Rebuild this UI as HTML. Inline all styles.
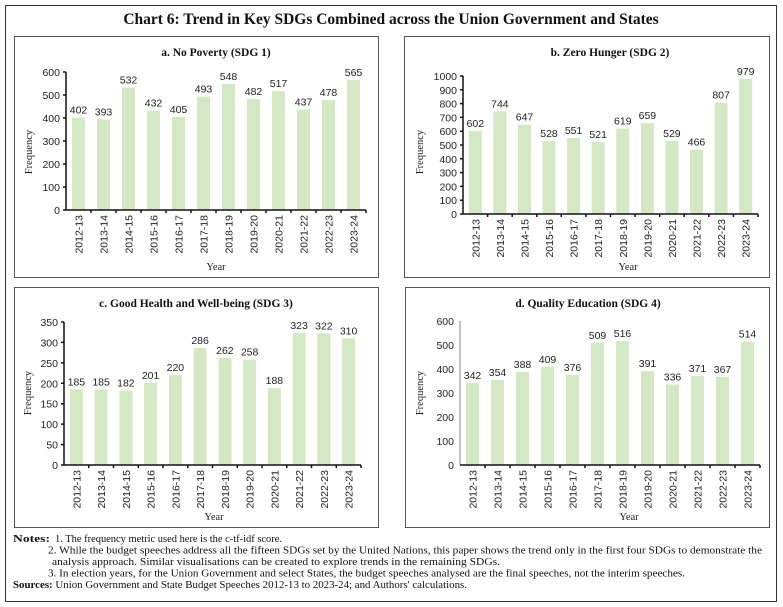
<!DOCTYPE html>
<html><head><meta charset="utf-8"><style>
html,body{margin:0;padding:0;background:#fff;}
svg{display:block;}
.v{font-family:"Liberation Sans",sans-serif;font-size:10.5px;fill:#222;text-anchor:middle;}
.yl{font-family:"Liberation Sans",sans-serif;font-size:10.5px;fill:#222;text-anchor:end;}
.ti{font-family:"Liberation Serif",serif;font-size:11.5px;font-weight:bold;text-anchor:middle;fill:#111;}
.ax{font-family:"Liberation Serif",serif;font-size:10.5px;fill:#222;text-anchor:middle;}
.n{font-family:"Liberation Serif",serif;font-size:11px;fill:#111;}
.b{fill:#d5e8c5;}
</style></head><body>
<svg width="783" height="607" viewBox="0 0 783 607" xmlns="http://www.w3.org/2000/svg">
<rect x="5.5" y="5.5" width="771" height="596" fill="#fff" stroke="#333" stroke-width="1"/>
<text x="391" y="24" style="font-family:'Liberation Serif',serif;font-size:15.5px;font-weight:bold;fill:#111" text-anchor="middle">Chart 6: Trend in Key SDGs Combined across the Union Government and States</text>

<!-- Panel a -->
<rect x="14.5" y="36.5" width="364" height="241" fill="none" stroke="#555"/>
<text class="ti" x="216" y="56">a. No Poverty (SDG 1)</text>
<g class="b">
<rect x="72" y="117.5" width="13" height="92.5"/><rect x="97" y="119.6" width="13" height="90.4"/><rect x="122" y="87.6" width="13" height="122.4"/><rect x="147" y="110.6" width="13" height="99.4"/><rect x="172" y="116.8" width="13" height="93.2"/><rect x="197" y="96.6" width="13" height="113.4"/><rect x="222" y="84" width="13" height="126"/><rect x="247" y="99.1" width="13" height="110.9"/><rect x="272" y="91.1" width="13" height="118.9"/><rect x="297" y="109.5" width="13" height="100.5"/><rect x="322" y="100.1" width="13" height="109.9"/><rect x="347" y="80" width="13" height="130"/>
</g>
<g class="v">
<text x="78.5" y="113.5">402</text><text x="103.5" y="115.6">393</text><text x="128.5" y="83.6">532</text><text x="153.5" y="106.6">432</text><text x="178.5" y="112.8">405</text><text x="203.5" y="92.6">493</text><text x="228.5" y="80">548</text><text x="253.5" y="95.1">482</text><text x="278.5" y="87.1">517</text><text x="303.5" y="105.5">437</text><text x="328.5" y="96.1">478</text><text x="353.5" y="76">565</text>
</g>
<path d="M66 72V210H366M63 72H66M63 95H66M63 118H66M63 141H66M63 164H66M63 187H66M63 210H66M91 210v3M116 210v3M141 210v3M166 210v3M191 210v3M216 210v3M241 210v3M266 210v3M291 210v3M316 210v3M341 210v3M366 210v3" stroke="#111" stroke-width="1.5" fill="none"/>
<g class="yl">
<text x="60" y="214">0</text><text x="60" y="191">100</text><text x="60" y="168">200</text><text x="60" y="145">300</text><text x="60" y="122">400</text><text x="60" y="99">500</text><text x="60" y="76">600</text>
</g>
<g class="yl">
<text transform="translate(82.5,215) rotate(-90)">2012-13</text><text transform="translate(107.5,215) rotate(-90)">2013-14</text><text transform="translate(132.5,215) rotate(-90)">2014-15</text><text transform="translate(157.5,215) rotate(-90)">2015-16</text><text transform="translate(182.5,215) rotate(-90)">2016-17</text><text transform="translate(207.5,215) rotate(-90)">2017-18</text><text transform="translate(232.5,215) rotate(-90)">2018-19</text><text transform="translate(257.5,215) rotate(-90)">2019-20</text><text transform="translate(282.5,215) rotate(-90)">2020-21</text><text transform="translate(307.5,215) rotate(-90)">2021-22</text><text transform="translate(332.5,215) rotate(-90)">2022-23</text><text transform="translate(357.5,215) rotate(-90)">2023-24</text>
</g>
<text class="ax" x="216" y="270">Year</text>
<text class="ax" transform="translate(32,152) rotate(-90)">Frequency</text>

<!-- Panel b -->
<rect x="404.5" y="36.5" width="365" height="241" fill="none" stroke="#555"/>
<text class="ti" x="610" y="56">b. Zero Hunger (SDG 2)</text>
<g class="b">
<rect x="468.8" y="130.9" width="13" height="83.1"/><rect x="493.4" y="111.3" width="13" height="102.7"/><rect x="518" y="124.7" width="13" height="89.3"/><rect x="542.5" y="141.1" width="13" height="72.9"/><rect x="567.1" y="138" width="13" height="76"/><rect x="591.7" y="142.1" width="13" height="71.9"/><rect x="616.3" y="128.6" width="13" height="85.4"/><rect x="640.9" y="123.1" width="13" height="90.9"/><rect x="665.4" y="141" width="13" height="73"/><rect x="690" y="149.7" width="13" height="64.3"/><rect x="714.6" y="102.6" width="13" height="111.4"/><rect x="739.2" y="78.9" width="13" height="135.1"/>
</g>
<g class="v">
<text x="475.3" y="126.9">602</text><text x="499.9" y="107.3">744</text><text x="524.5" y="120.7">647</text><text x="549" y="137.1">528</text><text x="573.6" y="134">551</text><text x="598.2" y="138.1">521</text><text x="622.8" y="124.6">619</text><text x="647.4" y="119.1">659</text><text x="671.9" y="137">529</text><text x="696.5" y="145.7">466</text><text x="721.1" y="98.6">807</text><text x="745.7" y="74.9">979</text>
</g>
<path d="M463 76V214H758M460 76H463M460 89.8H463M460 103.6H463M460 117.4H463M460 131.2H463M460 145H463M460 158.8H463M460 172.6H463M460 186.4H463M460 200.2H463M460 214H463M487.6 214v3M512.2 214v3M536.8 214v3M561.3 214v3M585.9 214v3M610.5 214v3M635.1 214v3M659.7 214v3M684.2 214v3M708.8 214v3M733.4 214v3M758 214v3" stroke="#111" stroke-width="1.5" fill="none"/>
<g class="yl">
<text x="457" y="218">0</text><text x="457" y="204.2">100</text><text x="457" y="190.4">200</text><text x="457" y="176.6">300</text><text x="457" y="162.8">400</text><text x="457" y="149">500</text><text x="457" y="135.2">600</text><text x="457" y="121.4">700</text><text x="457" y="107.6">800</text><text x="457" y="93.8">900</text><text x="457" y="80">1000</text>
</g>
<g class="yl">
<text transform="translate(479.3,219) rotate(-90)">2012-13</text><text transform="translate(503.9,219) rotate(-90)">2013-14</text><text transform="translate(528.5,219) rotate(-90)">2014-15</text><text transform="translate(553,219) rotate(-90)">2015-16</text><text transform="translate(577.6,219) rotate(-90)">2016-17</text><text transform="translate(602.2,219) rotate(-90)">2017-18</text><text transform="translate(626.8,219) rotate(-90)">2018-19</text><text transform="translate(651.4,219) rotate(-90)">2019-20</text><text transform="translate(675.9,219) rotate(-90)">2020-21</text><text transform="translate(700.5,219) rotate(-90)">2021-22</text><text transform="translate(725.1,219) rotate(-90)">2022-23</text><text transform="translate(749.7,219) rotate(-90)">2023-24</text>
</g>
<text class="ax" x="628" y="270">Year</text>
<text class="ax" transform="translate(423,152) rotate(-90)">Frequency</text>

<!-- Panel c -->
<rect x="14.5" y="287.5" width="364" height="240" fill="none" stroke="#555"/>
<text class="ti" x="196" y="307">c. Good Health and Well-being (SDG 3)</text>
<g class="b">
<rect x="69.9" y="389.4" width="13" height="75.6"/><rect x="94.6" y="389.4" width="13" height="75.6"/><rect x="119.4" y="390.6" width="13" height="74.4"/><rect x="144.1" y="382.9" width="13" height="82.1"/><rect x="168.9" y="375.1" width="13" height="89.9"/><rect x="193.6" y="348.1" width="13" height="116.9"/><rect x="218.4" y="357.9" width="13" height="107.1"/><rect x="243.1" y="359.6" width="13" height="105.4"/><rect x="267.9" y="388.2" width="13" height="76.8"/><rect x="292.6" y="333" width="13" height="132"/><rect x="317.4" y="333.4" width="13" height="131.6"/><rect x="342.1" y="338.3" width="13" height="126.7"/>
</g>
<g class="v">
<text x="76.4" y="385.4">185</text><text x="101.1" y="385.4">185</text><text x="125.9" y="386.6">182</text><text x="150.6" y="378.9">201</text><text x="175.4" y="371.1">220</text><text x="200.1" y="344.1">286</text><text x="224.9" y="353.9">262</text><text x="249.6" y="355.6">258</text><text x="274.4" y="384.2">188</text><text x="299.1" y="329">323</text><text x="323.9" y="329.4">322</text><text x="348.6" y="334.3">310</text>
</g>
<path d="M64 322V465H361M61 322H64M61 342.4H64M61 362.9H64M61 383.3H64M61 403.7H64M61 424.1H64M61 444.6H64M61 465H64M88.8 465v3M113.5 465v3M138.3 465v3M163 465v3M187.8 465v3M212.5 465v3M237.3 465v3M262 465v3M286.8 465v3M311.5 465v3M336.3 465v3M361 465v3" stroke="#111" stroke-width="1.5" fill="none"/>
<g class="yl">
<text x="58" y="469">0</text><text x="58" y="448.6">50</text><text x="58" y="428.1">100</text><text x="58" y="407.7">150</text><text x="58" y="387.3">200</text><text x="58" y="366.9">250</text><text x="58" y="346.4">300</text><text x="58" y="326">350</text>
</g>
<g class="yl">
<text transform="translate(80.4,470) rotate(-90)">2012-13</text><text transform="translate(105.1,470) rotate(-90)">2013-14</text><text transform="translate(129.9,470) rotate(-90)">2014-15</text><text transform="translate(154.6,470) rotate(-90)">2015-16</text><text transform="translate(179.4,470) rotate(-90)">2016-17</text><text transform="translate(204.1,470) rotate(-90)">2017-18</text><text transform="translate(228.9,470) rotate(-90)">2018-19</text><text transform="translate(253.6,470) rotate(-90)">2019-20</text><text transform="translate(278.4,470) rotate(-90)">2020-21</text><text transform="translate(303.1,470) rotate(-90)">2021-22</text><text transform="translate(327.9,470) rotate(-90)">2022-23</text><text transform="translate(352.6,470) rotate(-90)">2023-24</text>
</g>
<text class="ax" x="214" y="520">Year</text>
<text class="ax" transform="translate(31,393) rotate(-90)">Frequency</text>

<!-- Panel d -->
<rect x="405.5" y="287.5" width="364" height="240" fill="none" stroke="#555"/>
<text class="ti" x="588" y="307">d. Quality Education (SDG 4)</text>
<g class="b">
<rect x="466" y="382.9" width="13" height="82.1"/><rect x="491" y="380" width="13" height="85"/><rect x="516" y="371.9" width="13" height="93.1"/><rect x="541" y="366.8" width="13" height="98.2"/><rect x="566" y="374.8" width="13" height="90.2"/><rect x="591" y="342.8" width="13" height="122.2"/><rect x="616" y="341.2" width="13" height="123.8"/><rect x="641" y="371.2" width="13" height="93.8"/><rect x="666" y="384.4" width="13" height="80.6"/><rect x="691" y="376" width="13" height="89"/><rect x="716" y="376.9" width="13" height="88.1"/><rect x="741" y="341.6" width="13" height="123.4"/>
</g>
<g class="v">
<text x="472.5" y="378.9">342</text><text x="497.5" y="376">354</text><text x="522.5" y="367.9">388</text><text x="547.5" y="362.8">409</text><text x="572.5" y="370.8">376</text><text x="597.5" y="338.8">509</text><text x="622.5" y="337.2">516</text><text x="647.5" y="367.2">391</text><text x="672.5" y="380.4">336</text><text x="697.5" y="372">371</text><text x="722.5" y="372.9">367</text><text x="747.5" y="337.6">514</text>
</g>
<path d="M460 321V465" stroke="#888" stroke-width="1" fill="none"/>
<path d="M460 465H760M485 465v3M510 465v3M535 465v3M560 465v3M585 465v3M610 465v3M635 465v3M660 465v3M685 465v3M710 465v3M735 465v3M760 465v3" stroke="#111" stroke-width="1.5" fill="none"/>
<g class="yl">
<text x="454" y="469">0</text><text x="454" y="445">100</text><text x="454" y="421">200</text><text x="454" y="397">300</text><text x="454" y="373">400</text><text x="454" y="349">500</text><text x="454" y="325">600</text>
</g>
<g class="yl">
<text transform="translate(476.5,470) rotate(-90)">2012-13</text><text transform="translate(501.5,470) rotate(-90)">2013-14</text><text transform="translate(526.5,470) rotate(-90)">2014-15</text><text transform="translate(551.5,470) rotate(-90)">2015-16</text><text transform="translate(576.5,470) rotate(-90)">2016-17</text><text transform="translate(601.5,470) rotate(-90)">2017-18</text><text transform="translate(626.5,470) rotate(-90)">2018-19</text><text transform="translate(651.5,470) rotate(-90)">2019-20</text><text transform="translate(676.5,470) rotate(-90)">2020-21</text><text transform="translate(701.5,470) rotate(-90)">2021-22</text><text transform="translate(726.5,470) rotate(-90)">2022-23</text><text transform="translate(751.5,470) rotate(-90)">2023-24</text>
</g>
<text class="ax" x="629" y="520">Year</text>
<text class="ax" transform="translate(423,393) rotate(-90)">Frequency</text>

<!-- Notes -->
<text class="n" x="13" y="542" font-weight="bold" textLength="37" lengthAdjust="spacingAndGlyphs">Notes:</text>
<text class="n" x="55" y="542" textLength="227" lengthAdjust="spacingAndGlyphs">1.  The frequency metric used here is the c-tf-idf score.</text>
<text class="n" x="48" y="553.5" textLength="714" lengthAdjust="spacingAndGlyphs">2.  While the budget speeches address all the fifteen SDGs set by the United Nations, this paper shows the  trend only in the first four SDGs to demonstrate the</text>
<text class="n" x="52" y="565" textLength="448" lengthAdjust="spacingAndGlyphs">analysis approach. Similar visualisations can be created to explore trends in the remaining SDGs.</text>
<text class="n" x="48" y="576.5" textLength="637" lengthAdjust="spacingAndGlyphs">3.  In election years, for the Union Government and select States, the budget speeches analysed are the final speeches, not the interim speeches.</text>
<text class="n" x="13" y="588" textLength="454" lengthAdjust="spacingAndGlyphs"><tspan font-weight="bold">Sources:</tspan> Union Government and State Budget Speeches 2012-13 to 2023-24; and Authors' calculations.</text>
</svg>
</body></html>
